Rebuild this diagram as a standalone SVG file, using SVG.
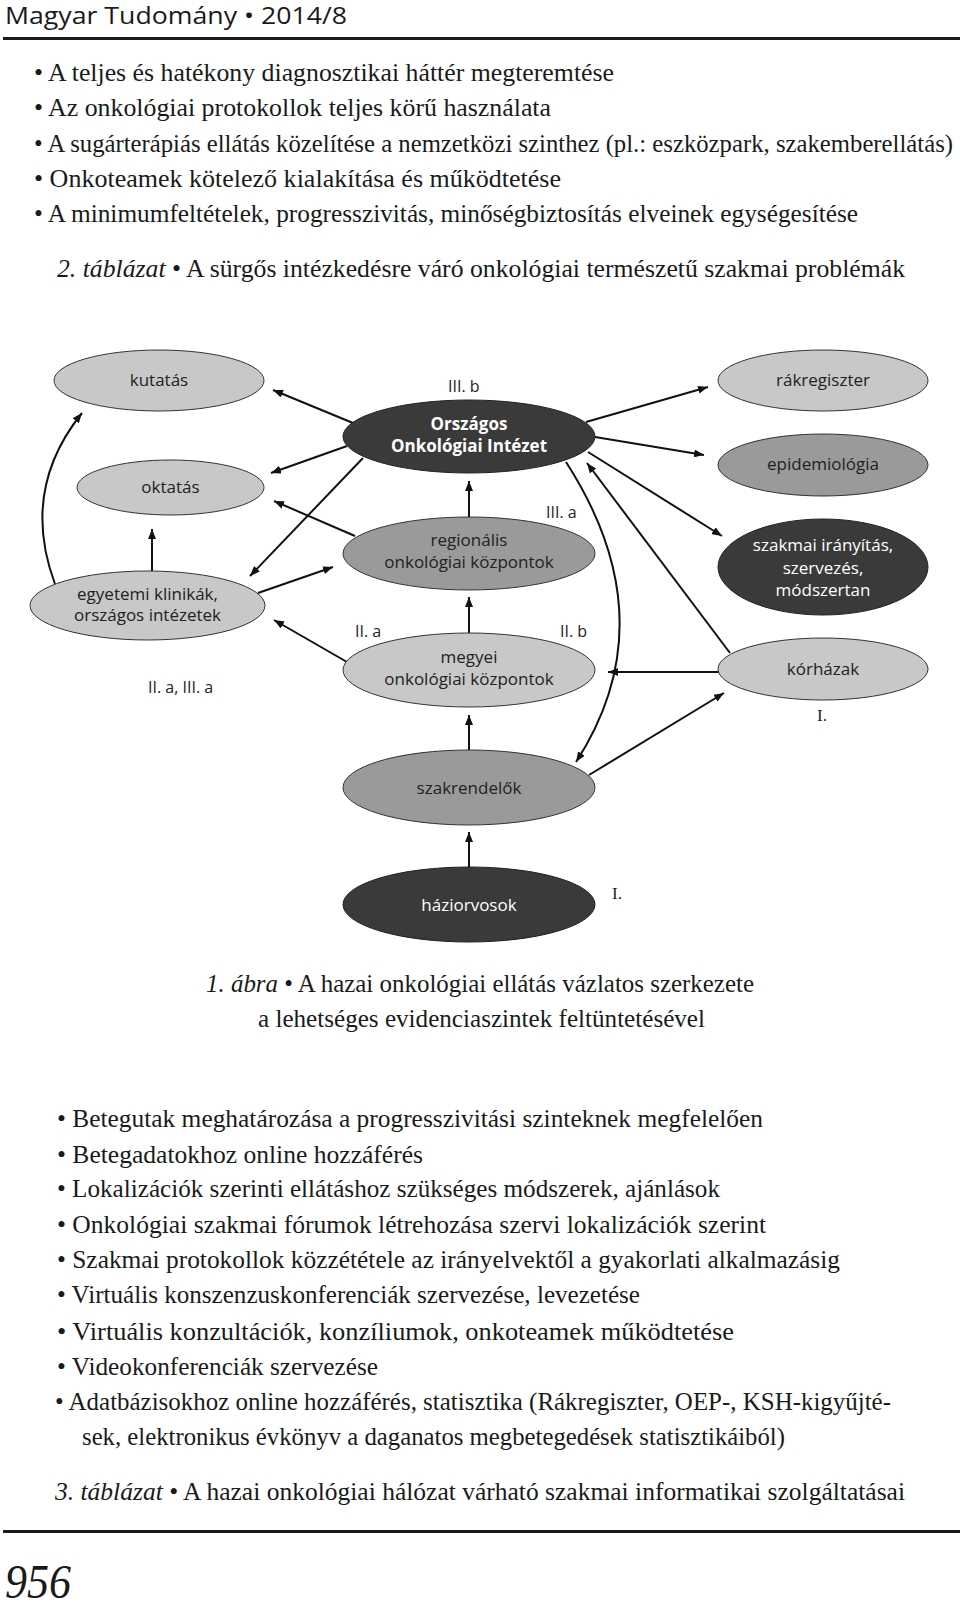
<svg xmlns="http://www.w3.org/2000/svg" width="960" height="1610" viewBox="0 0 960 1610">
<defs>
<style>
.body{font-family:"Liberation Serif",serif;font-size:24.5px;fill:#1a1a1a}
.it{font-style:italic}
.nt{font-family:"Open Sans","Liberation Sans",sans-serif;font-size:17px;fill:#222;text-anchor:middle}
.nw{font-family:"Open Sans","Liberation Sans",sans-serif;font-size:17px;fill:#fff;text-anchor:middle}
.lbl{font-family:"Open Sans","Liberation Sans",sans-serif;font-size:16px;fill:#222}
.lvl{font-family:"Liberation Serif",serif;font-size:17px;fill:#222}
.light{fill:#c8c8c8;stroke:#333;stroke-width:1}
.mid{fill:#9a9a9a;stroke:#333;stroke-width:1}
.dark{fill:#3a3a3a;stroke:#222;stroke-width:1}
.cn{fill:none;stroke:#111;stroke-width:2;marker-end:url(#ah)}
</style>
<marker id="ah" viewBox="0 0 10 8" refX="10" refY="4" markerWidth="10" markerHeight="8" markerUnits="userSpaceOnUse" orient="auto">
<path d="M0,0 L10,4 L0,8 z" fill="#111"/>
</marker>
</defs>
<rect width="960" height="1610" fill="#fff"/>

<!-- header -->
<text x="5" y="24" font-family="'Open Sans','Liberation Sans',sans-serif" font-size="24" fill="#1a1a1a" textLength="342" lengthAdjust="spacingAndGlyphs">Magyar Tudomány • 2014/8</text>
<rect x="3" y="37" width="957" height="3" fill="#1a1a1a"/>

<!-- table 2 bullets -->
<text class="body" x="34" y="81" textLength="580" lengthAdjust="spacingAndGlyphs">• A teljes és hatékony diagnosztikai háttér megteremtése</text>
<text class="body" x="34" y="116" textLength="517" lengthAdjust="spacingAndGlyphs">• Az onkológiai protokollok teljes körű használata</text>
<text class="body" x="34" y="152" textLength="919" lengthAdjust="spacingAndGlyphs">• A sugárterápiás ellátás közelítése a nemzetközi szinthez (pl.: eszközpark, szakemberellátás)</text>
<text class="body" x="34" y="187" textLength="527" lengthAdjust="spacingAndGlyphs">• Onkoteamek kötelező kialakítása és működtetése</text>
<text class="body" x="34" y="222" textLength="824" lengthAdjust="spacingAndGlyphs">• A minimumfeltételek, progresszivitás, minőségbiztosítás elveinek egységesítése</text>
<text class="body" x="57" y="277" textLength="848" lengthAdjust="spacingAndGlyphs"><tspan class="it">2. táblázat</tspan> • A sürgős intézkedésre váró onkológiai természetű szakmai problémák</text>

<!-- connectors -->
<g id="connectors">
<path class="cn" d="M353,423 L273,390"/>
<path class="cn" d="M347,446 L271,473"/>
<path class="cn" d="M355,536 L274,501"/>
<path class="cn" d="M363,458 L250,576"/>
<path class="cn" d="M152,571 L152,529"/>
<path class="cn" d="M258,593 L333,567"/>
<path class="cn" d="M347,662 L274,620"/>
<path class="cn" d="M55,584 Q20,490 82,413"/>
<path class="cn" d="M469,517 L469,481"/>
<path class="cn" d="M469,633 L469,597"/>
<path class="cn" d="M469,750 L469,715"/>
<path class="cn" d="M469,867 L469,832"/>
<path class="cn" d="M586,422 L708,387"/>
<path class="cn" d="M595,437 L704,455"/>
<path class="cn" d="M588,452 L722,536"/>
<path class="cn" d="M730,653 L587,463"/>
<path class="cn" d="M719,672 L608,672"/>
<path class="cn" d="M566,462 Q668,620 576,762"/>
<path class="cn" d="M589,775 L724,693"/>
</g>

<!-- nodes -->
<g id="kutatas"><ellipse class="light" cx="159" cy="380.5" rx="105" ry="30.5"/><text class="nt" x="159" y="386">kutatás</text></g>
<g id="oktatas"><ellipse class="light" cx="170.5" cy="487.5" rx="93.5" ry="27.5"/><text class="nt" x="170.5" y="493">oktatás</text></g>
<g id="egyetemi"><ellipse class="light" cx="147.5" cy="605.5" rx="117.5" ry="34.5"/><text class="nt" x="147.5" y="600">egyetemi klinikák,</text><text class="nt" x="147.5" y="621">országos intézetek</text></g>
<g id="oni"><ellipse class="dark" cx="469" cy="436.5" rx="126" ry="36.5"/><text class="nw" x="469" y="430" font-weight="bold">Országos</text><text class="nw" x="469" y="452" font-weight="bold">Onkológiai Intézet</text></g>
<g id="regionalis"><ellipse class="mid" cx="469" cy="553.5" rx="126" ry="36.5"/><text class="nt" x="469" y="546">regionális</text><text class="nt" x="469" y="568">onkológiai központok</text></g>
<g id="megyei"><ellipse class="light" cx="469" cy="670" rx="126" ry="37"/><text class="nt" x="469" y="663">megyei</text><text class="nt" x="469" y="685">onkológiai központok</text></g>
<g id="szakrendelok"><ellipse class="mid" cx="469" cy="787.5" rx="126" ry="37.5"/><text class="nt" x="469" y="794">szakrendelők</text></g>
<g id="haziorvosok"><ellipse class="dark" cx="469" cy="904.5" rx="126" ry="37.5"/><text class="nw" x="469" y="911">háziorvosok</text></g>
<g id="rakregiszter"><ellipse class="light" cx="823" cy="380.5" rx="105" ry="30.5"/><text class="nt" x="823" y="386">rákregiszter</text></g>
<g id="epidemiologia"><ellipse class="mid" cx="823" cy="465" rx="105" ry="31"/><text class="nt" x="823" y="470">epidemiológia</text></g>
<g id="szakmai"><ellipse class="dark" cx="823" cy="567" rx="105" ry="48"/><text class="nw" x="823" y="551">szakmai irányítás,</text><text class="nw" x="823" y="574">szervezés,</text><text class="nw" x="823" y="596">módszertan</text></g>
<g id="korhazak"><ellipse class="light" cx="823" cy="669" rx="105" ry="31"/><text class="nt" x="823" y="675">kórházak</text></g>

<!-- level labels -->
<g id="labels">
<text class="lbl" x="448" y="392">III. b</text>
<text class="lbl" x="546" y="518">III. a</text>
<text class="lbl" x="355" y="637">II. a</text>
<text class="lbl" x="560" y="637">II. b</text>
<text class="lbl" x="148" y="693">II. a, III. a</text>
<text class="lvl" x="817" y="721">I.</text>
<text class="lvl" x="612" y="899">I.</text>
</g>

<!-- figure caption -->
<text class="body" x="206" y="992" textLength="548" lengthAdjust="spacingAndGlyphs"><tspan class="it">1. ábra</tspan> • A hazai onkológiai ellátás vázlatos szerkezete</text>
<text class="body" x="258" y="1027" textLength="447" lengthAdjust="spacingAndGlyphs">a lehetséges evidenciaszintek feltüntetésével</text>

<!-- table 3 bullets -->
<text class="body" x="57" y="1127" textLength="706" lengthAdjust="spacingAndGlyphs">• Betegutak meghatározása a progresszivitási szinteknek megfelelően</text>
<text class="body" x="57" y="1163" textLength="366" lengthAdjust="spacingAndGlyphs">• Betegadatokhoz online hozzáférés</text>
<text class="body" x="57" y="1197" textLength="663" lengthAdjust="spacingAndGlyphs">• Lokalizációk szerinti ellátáshoz szükséges módszerek, ajánlások</text>
<text class="body" x="57" y="1233" textLength="709" lengthAdjust="spacingAndGlyphs">• Onkológiai szakmai fórumok létrehozása szervi lokalizációk szerint</text>
<text class="body" x="57" y="1268" textLength="783" lengthAdjust="spacingAndGlyphs">• Szakmai protokollok közzététele az irányelvektől a gyakorlati alkalmazásig</text>
<text class="body" x="57" y="1303" textLength="583" lengthAdjust="spacingAndGlyphs">• Virtuális konszenzuskonferenciák szervezése, levezetése</text>
<text class="body" x="57" y="1340" textLength="677" lengthAdjust="spacingAndGlyphs">• Virtuális konzultációk, konzíliumok, onkoteamek működtetése</text>
<text class="body" x="57" y="1375" textLength="321" lengthAdjust="spacingAndGlyphs">• Videokonferenciák szervezése</text>
<text class="body" x="55" y="1410" textLength="836" lengthAdjust="spacingAndGlyphs">• Adatbázisokhoz online hozzáférés, statisztika (Rákregiszter, OEP-, KSH-kigyűjté-</text>
<text class="body" x="82" y="1445" textLength="703" lengthAdjust="spacingAndGlyphs">sek, elektronikus évkönyv a daganatos megbetegedések statisztikáiból)</text>
<text class="body" x="55" y="1500" textLength="850" lengthAdjust="spacingAndGlyphs"><tspan class="it">3. táblázat</tspan> • A hazai onkológiai hálózat várható szakmai informatikai szolgáltatásai</text>

<!-- footer -->
<rect x="3" y="1530" width="957" height="3" fill="#1a1a1a"/>
<text x="5" y="1598" font-family="'Liberation Serif',serif" font-style="italic" font-size="48" fill="#1a1a1a" textLength="66" lengthAdjust="spacingAndGlyphs">956</text>
</svg>
